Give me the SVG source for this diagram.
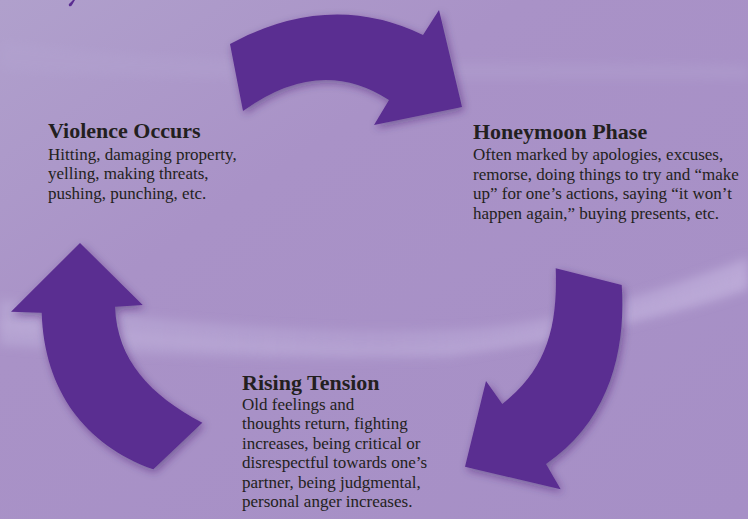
<svg xmlns="http://www.w3.org/2000/svg" width="748" height="519" viewBox="0 0 748 519">
  <defs>
    <linearGradient id="bg" x1="0" y1="0" x2="1" y2="1">
      <stop offset="0" stop-color="#b0a0cc"/>
      <stop offset="0.35" stop-color="#a992c7"/>
      <stop offset="1" stop-color="#a68fc6"/>
    </linearGradient>
    <linearGradient id="band" x1="0" y1="0" x2="1" y2="0">
      <stop offset="0" stop-color="#b9a9d6" stop-opacity="0.7"/>
      <stop offset="0.5" stop-color="#b6a4d4" stop-opacity="0.6"/>
      <stop offset="1" stop-color="#bcaad8" stop-opacity="0.9"/>
    </linearGradient>
    <filter id="soft" x="-10%" y="-50%" width="120%" height="200%">
      <feGaussianBlur stdDeviation="5"/>
    </filter>
    <filter id="shadow" x="-30%" y="-30%" width="160%" height="160%">
      <feDropShadow dx="2" dy="3" stdDeviation="4" flood-color="#3a1f66" flood-opacity="0.45"/>
    </filter>
    <style>
      .arrow { fill: #5a2d91; filter: url(#shadow); }
      .title { font-family: "Liberation Serif", "DejaVu Serif", serif; font-weight: bold; font-size: 22px; fill: #231f20; }
      .body { font-family: "Liberation Serif", "DejaVu Serif", serif; font-size: 17px; fill: #231f20; }
    </style>
  </defs>

  <!-- background -->
  <rect x="0" y="0" width="748" height="519" fill="url(#bg)"/>
  <path d="M0,40 C200,70 500,60 748,65 L748,80 C500,78 200,85 0,70 Z" fill="#b4a4d2" opacity="0.35" filter="url(#soft)"/>
  <path d="M0,300 C150,320 300,335 450,330 C560,326 660,290 748,258 L748,290 C660,320 580,335 450,357 C300,362 150,355 0,345 Z" fill="url(#band)" filter="url(#soft)"/>
  <path d="M0,320 C150,335 300,350 450,346 C560,338 660,305 748,275 L748,282 C660,312 560,345 450,352 C300,356 150,345 0,330 Z" fill="#c2b2dc" opacity="0.35" filter="url(#soft)"/>

  <!-- fragment at top -->
  <path d="M73,0 L75,0 L72,5 Q71,7 69,6 Q68,4 70,3 Z" fill="#5a2d91"/>

  <g id="connectors">
    <path id="arrow-top" class="arrow" d="M230,44 Q330,-10 423,35 L439,10 L462,107 L374,125 L389,100 Q320,55 243,111 Z"/>
    <path id="arrow-right" class="arrow" d="M555.7,268.3 L621.7,285 C626,350 610,420 546,464 L560.7,489.3 L465,466.7 L486,381 L502.3,404 C545,370 558,330 555.7,268.3 Z"/>
    <path id="arrow-left" class="arrow" d="M80,243 L142.7,305 L115,306.7 C117,360 150,395 202.3,422.7 L153.3,469.3 C85,445 44,390 41.7,312.7 L11,311.7 Z"/>
  </g>

  <g id="node-violence">
    <text class="title" x="48" y="138">Violence Occurs</text>
    <text class="body" x="48" y="159.5">Hitting, damaging property,</text>
    <text class="body" x="48" y="179">yelling, making threats,</text>
    <text class="body" x="48" y="198.5">pushing, punching, etc.</text>
  </g>

  <g id="node-honeymoon">
    <text class="title" x="473" y="139">Honeymoon Phase</text>
    <text class="body" x="473" y="160">Often marked by apologies, excuses,</text>
    <text class="body" x="473" y="179.6">remorse, doing things to try and “make</text>
    <text class="body" x="473" y="199.2">up” for one’s actions, saying “it won’t</text>
    <text class="body" x="473" y="218.8">happen again,” buying presents, etc.</text>
  </g>

  <g id="node-rising">
    <text class="title" x="242" y="389.5">Rising Tension</text>
    <text class="body" x="242" y="409.5">Old feelings and</text>
    <text class="body" x="242" y="429">thoughts return, fighting</text>
    <text class="body" x="242" y="448.5">increases, being critical or</text>
    <text class="body" x="242" y="468">disrespectful towards one’s</text>
    <text class="body" x="242" y="487.5">partner, being judgmental,</text>
    <text class="body" x="242" y="507">personal anger increases.</text>
  </g>
</svg>
